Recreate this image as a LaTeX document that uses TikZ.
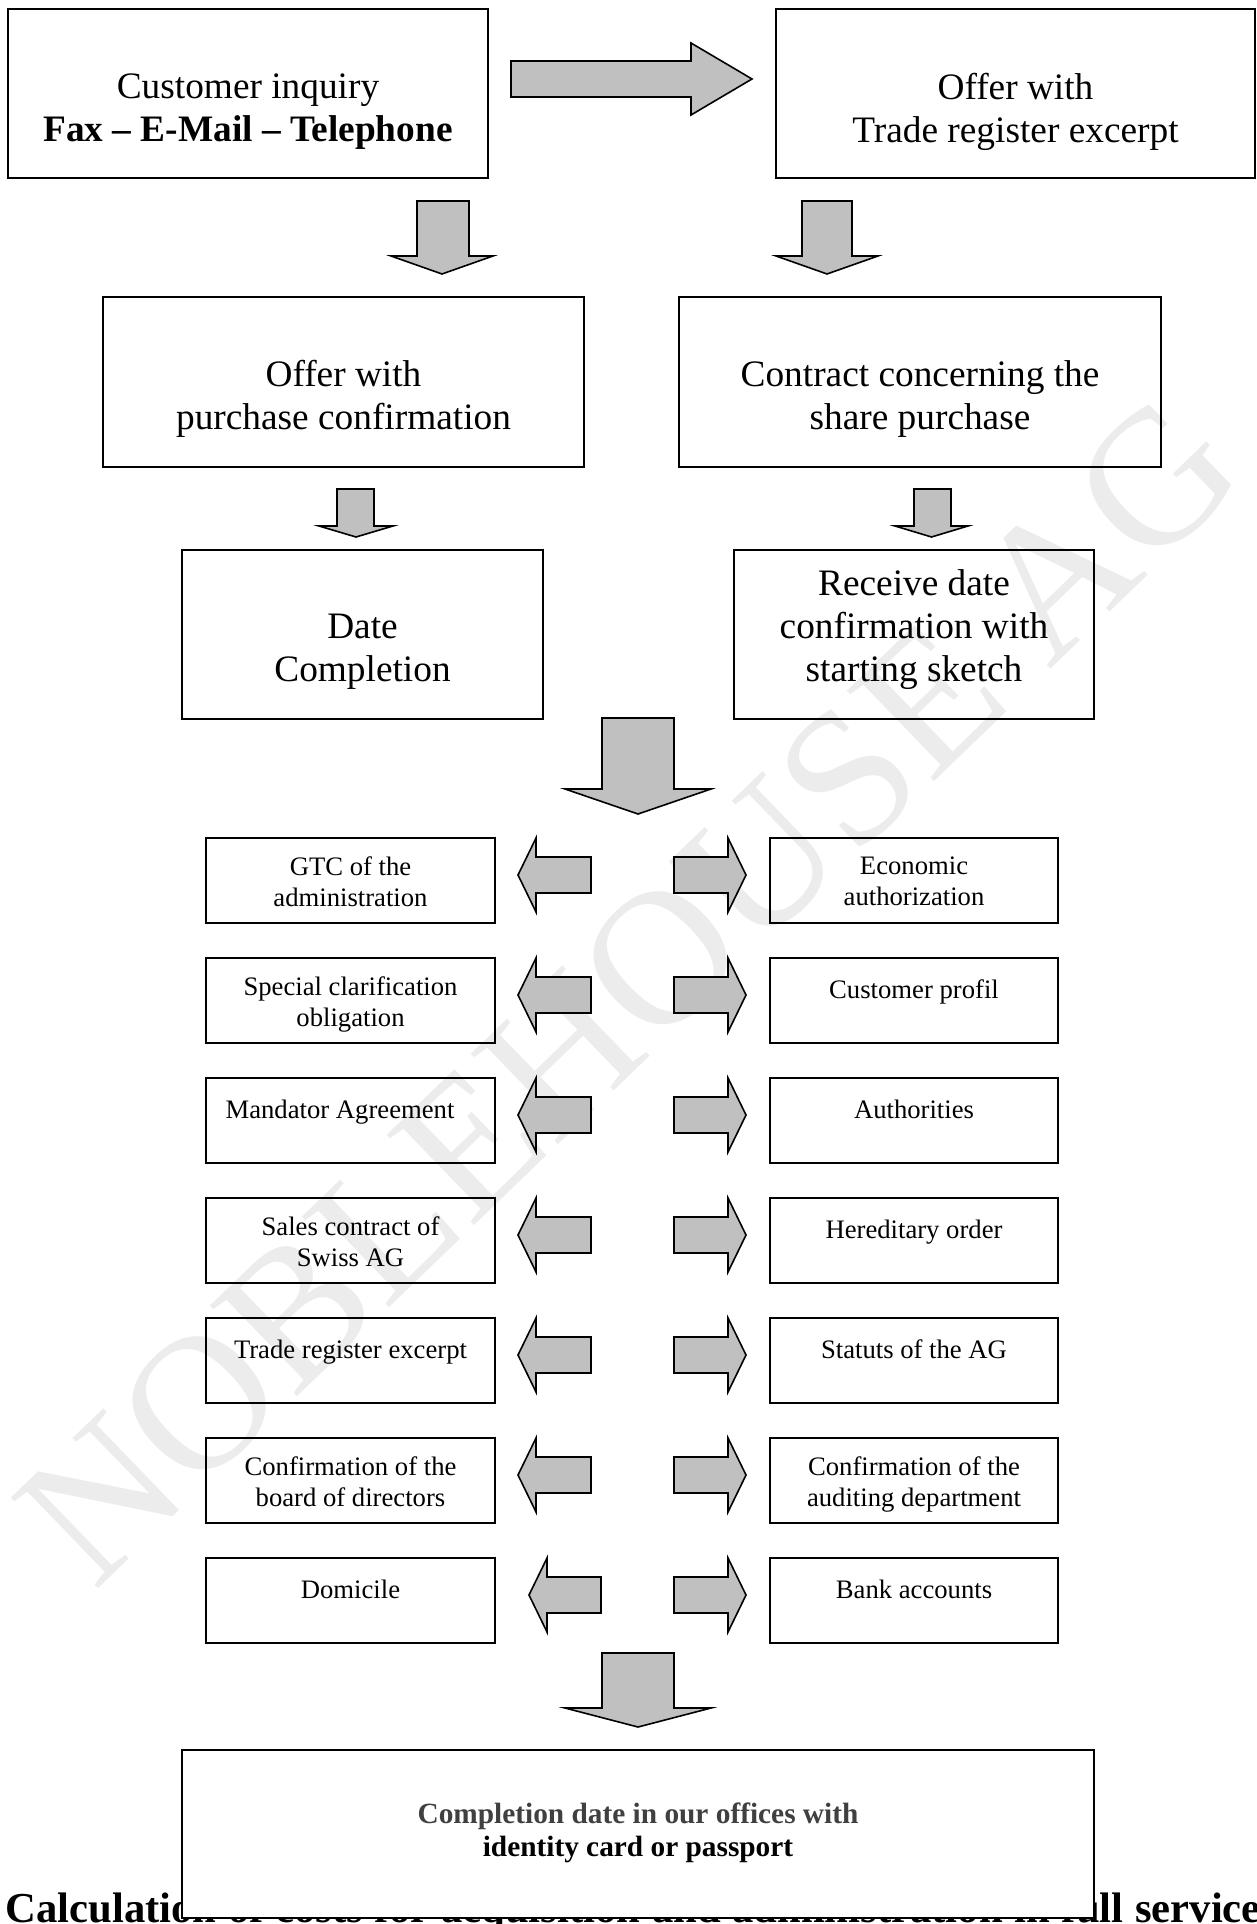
\documentclass[tikz,border=0pt]{standalone}
\usepackage{fontspec}
\setmainfont{Liberation Serif}
\usepackage{tikz}

\begin{document}
\begin{tikzpicture}[x=0.375pt, y=-0.375pt,
    box/.style={draw=black, line width=0.75pt},
    blockarrow/.style={draw=black, fill=arrowcolor, line width=0.6pt, line join=miter},
    bigtext/.style={anchor=north, inner sep=0pt, align=center, font=\fontsize{14}{16.1}\selectfont, execute at begin node=\strut},
    smalltext/.style={anchor=north, inner sep=0pt, align=center, font=\fontsize{10}{11.5}\selectfont, execute at begin node=\strut}]
        % Define colors
        \definecolor{arrowcolor}{RGB}{192, 192, 192} % Silver
        \definecolor{markcolor}{RGB}{236, 236, 236}  % Light gray
        \definecolor{greytext}{RGB}{64, 64, 64}      % Dark gray

        \useasboundingbox (0,0) rectangle (1257,1924);

        % Watermark
        \node[rotate=44, text=markcolor, font=\fontsize{72}{72}\selectfont] (mark) at (628,990) {NOBLEHOUSE AG};

        % Heading behind the last box
        \node[anchor=base west, inner sep=0pt, font=\fontsize{16}{19}\selectfont\bfseries] (title) at (5,1922) {\spaceskip=0.275em Calculation of costs for acquisition and administration in full service};

        % Top row
        \draw[box] (8,9) rectangle (488,178);
        \node[bigtext] (inquiry) at (248,73) {Customer inquiry\\\textbf{Fax – E-Mail – Telephone}};
        \draw[box] (776,9) rectangle (1255,178);
        \node[bigtext] (offer) at (1015.5,73) {Offer with\\Trade register excerpt};

        % Second row
        \draw[box] (103,297) rectangle (584,467);
        \node[bigtext] (purchase) at (343.5,360) {Offer with\\purchase confirmation};
        \draw[box] (679,297) rectangle (1161,467);
        \node[bigtext] (contract) at (920,360) {Contract concerning the\\share purchase};

        % Third row
        \draw[box] (182,550) rectangle (543,719);
        \node[bigtext] (date) at (362.5,614) {Date\\Completion};
        \draw[box] (734,550) rectangle (1094,719);
        \node[bigtext] (receive) at (914,569) {Receive date\\confirmation with\\starting sketch};

        % Arrows between the upper boxes
        \draw[blockarrow] (511,61) -- (691,61) -- (691,43) -- (752,79) -- (691,115) -- (691,97) -- (511,97) -- cycle; % inquiry to offer
        \draw[blockarrow] (417,201) -- (469,201) -- (469,256) -- (493,256) -- (442,274) -- (391,256) -- (417,256) -- cycle; % inquiry to purchase
        \draw[blockarrow] (802,201) -- (852,201) -- (852,256) -- (878,256) -- (827,274) -- (776,256) -- (802,256) -- cycle; % offer to contract
        \draw[blockarrow] (337,489) -- (374,489) -- (374,526) -- (393,526) -- (356,537) -- (319,526) -- (337,526) -- cycle; % purchase to date
        \draw[blockarrow] (914,489) -- (951,489) -- (951,526) -- (968,526) -- (931.5,537) -- (895,526) -- (914,526) -- cycle; % contract to receive
        \draw[blockarrow] (602,718) -- (674,718) -- (674,789) -- (711,789) -- (638,814) -- (565,789) -- (602,789) -- cycle; % down to the list

        % Document list, left side
        \draw[box] (206,838) rectangle (495,923);
        \node[smalltext] (gtc) at (350.5,856.5) {GTC of the\\administration};
        \draw[box] (206,958) rectangle (495,1043);
        \node[smalltext] (special) at (350.5,976.5) {Special clarification\\obligation};
        \draw[box] (206,1078) rectangle (495,1163);
        \node[smalltext] (mandator) at (340,1096.5) {Mandator Agreement};
        \draw[box] (206,1198) rectangle (495,1283);
        \node[smalltext] (sales) at (350.5,1216.5) {Sales contract of\\Swiss AG};
        \draw[box] (206,1318) rectangle (495,1403);
        \node[smalltext] (register) at (350.5,1336.5) {Trade register excerpt};
        \draw[box] (206,1438) rectangle (495,1523);
        \node[smalltext] (board) at (350.5,1456.5) {Confirmation of the\\board of directors};
        \draw[box] (206,1558) rectangle (495,1643);
        \node[smalltext] (domicile) at (350.5,1576.5) {Domicile};

        % Document list, right side
        \draw[box] (770,838) rectangle (1058,923);
        \node[smalltext] (economic) at (914,856.5) {Economic\\authorization};
        \draw[box] (770,958) rectangle (1058,1043);
        \node[smalltext] (profil) at (914,976.5) {Customer profil};
        \draw[box] (770,1078) rectangle (1058,1163);
        \node[smalltext] (authorities) at (914,1096.5) {Authorities};
        \draw[box] (770,1198) rectangle (1058,1283);
        \node[smalltext] (hereditary) at (914,1216.5) {Hereditary order};
        \draw[box] (770,1318) rectangle (1058,1403);
        \node[smalltext] (statuts) at (914,1336.5) {Statuts of the AG};
        \draw[box] (770,1438) rectangle (1058,1523);
        \node[smalltext] (auditing) at (914,1456.5) {Confirmation of the\\auditing department};
        \draw[box] (770,1558) rectangle (1058,1643);
        \node[smalltext] (bank) at (914,1576.5) {Bank accounts};

        % Arrows to the left
        \draw[blockarrow] (591,857) -- (536,857) -- (536,838) -- (518,875) -- (536,912) -- (536,893) -- (591,893) -- cycle; % to GTC
        \draw[blockarrow] (591,977) -- (536,977) -- (536,958) -- (518,995) -- (536,1032) -- (536,1013) -- (591,1013) -- cycle; % to special
        \draw[blockarrow] (591,1097) -- (536,1097) -- (536,1078) -- (518,1115) -- (536,1152) -- (536,1133) -- (591,1133) -- cycle; % to mandator
        \draw[blockarrow] (591,1217) -- (536,1217) -- (536,1198) -- (518,1235) -- (536,1272) -- (536,1253) -- (591,1253) -- cycle; % to sales
        \draw[blockarrow] (591,1337) -- (536,1337) -- (536,1318) -- (518,1355) -- (536,1392) -- (536,1373) -- (591,1373) -- cycle; % to register
        \draw[blockarrow] (591,1457) -- (536,1457) -- (536,1438) -- (518,1475) -- (536,1512) -- (536,1493) -- (591,1493) -- cycle; % to board
        \draw[blockarrow] (601,1577) -- (547,1577) -- (547,1558) -- (529,1595) -- (547,1632) -- (547,1613) -- (601,1613) -- cycle; % to domicile

        % Arrows to the right
        \draw[blockarrow] (674,857) -- (728,857) -- (728,838) -- (746,875) -- (728,912) -- (728,893) -- (674,893) -- cycle; % to economic
        \draw[blockarrow] (674,977) -- (728,977) -- (728,958) -- (746,995) -- (728,1032) -- (728,1013) -- (674,1013) -- cycle; % to profil
        \draw[blockarrow] (674,1097) -- (728,1097) -- (728,1078) -- (746,1115) -- (728,1152) -- (728,1133) -- (674,1133) -- cycle; % to authorities
        \draw[blockarrow] (674,1217) -- (728,1217) -- (728,1198) -- (746,1235) -- (728,1272) -- (728,1253) -- (674,1253) -- cycle; % to hereditary
        \draw[blockarrow] (674,1337) -- (728,1337) -- (728,1318) -- (746,1355) -- (728,1392) -- (728,1373) -- (674,1373) -- cycle; % to statuts
        \draw[blockarrow] (674,1457) -- (728,1457) -- (728,1438) -- (746,1475) -- (728,1512) -- (728,1493) -- (674,1493) -- cycle; % to auditing
        \draw[blockarrow] (674,1577) -- (728,1577) -- (728,1558) -- (746,1595) -- (728,1632) -- (728,1613) -- (674,1613) -- cycle; % to bank

        % Down to the completion date
        \draw[blockarrow] (602,1653) -- (674,1653) -- (674,1708) -- (711,1708) -- (638,1727) -- (565,1708) -- (602,1708) -- cycle;

        % Completion box
        \draw[box, fill=white] (182,1750) rectangle (1094,1918);
        \node[anchor=north, inner sep=0pt, align=center, font=\fontsize{11}{12.65}\selectfont\bfseries, execute at begin node=\strut] (completion) at (638,1802) {\textcolor{greytext}{Completion date in our offices with}\\identity card or passport};

    \end{tikzpicture}
\end{document}
